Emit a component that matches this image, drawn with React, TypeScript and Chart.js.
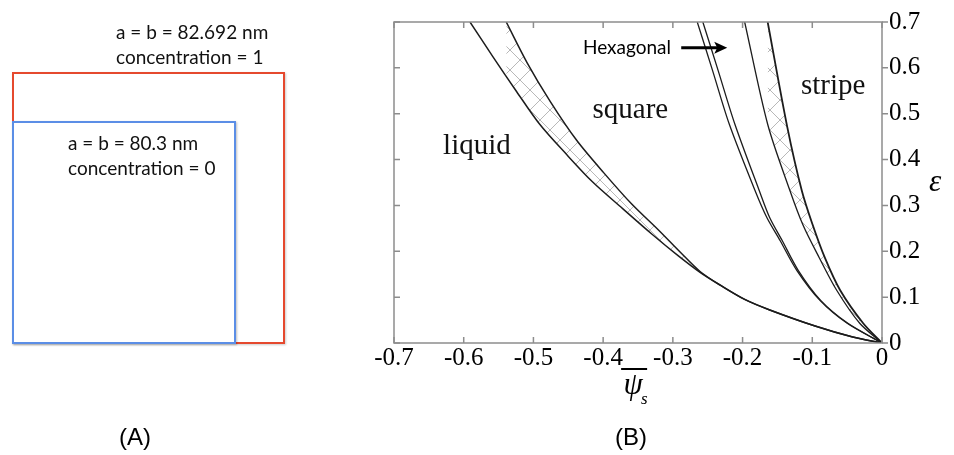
import React, { useEffect, useRef } from 'react';
import { Chart, registerables } from 'chart.js';

Chart.register(...registerables);

// Axis ticks
const xTickValues = [-0.7, -0.6, -0.5, -0.4, -0.3, -0.2, -0.1, 0];
const yTickValues = [0, 0.1, 0.2, 0.3, 0.4, 0.5, 0.6, 0.7];

// Liquid / square coexistence band
const liquidLowerPsi = [-0.591, -0.558, -0.524, -0.491, -0.453, -0.415, -0.372, -0.329, -0.293, -0.261, -0.232, -0.197, -0.161, -0.096, -0.042, 0];
const liquidLowerEps = [0.700, 0.624, 0.548, 0.477, 0.412, 0.351, 0.293, 0.236, 0.191, 0.154, 0.126, 0.095, 0.072, 0.037, 0.013, 0];
const liquidUpperPsi = [-0.539, -0.509, -0.476, -0.438, -0.399, -0.359, -0.321, -0.290, -0.261, -0.232, -0.197, -0.161, -0.096, -0.042, 0];
const liquidUpperEps = [0.700, 0.611, 0.527, 0.442, 0.371, 0.303, 0.247, 0.199, 0.156, 0.126, 0.095, 0.072, 0.037, 0.013, 0];

// Square / hexagonal boundaries
const hexLeftPsi = [-0.265, -0.243, -0.219, -0.182, -0.165, -0.146, -0.122, -0.089, -0.050, 0];
const hexLeftEps = [0.700, 0.594, 0.477, 0.332, 0.273, 0.223, 0.158, 0.093, 0.043, 0];
const hexRightPsi = [-0.257, -0.235, -0.211, -0.176, -0.161, -0.143, -0.120, -0.088, -0.049, 0];
const hexRightEps = [0.700, 0.594, 0.477, 0.332, 0.273, 0.223, 0.158, 0.093, 0.043, 0];

// Hexagonal / stripe coexistence band
const stripeLeftPsi = [-0.197, -0.164, -0.132, -0.113, -0.090, -0.065, -0.032, 0];
const stripeLeftEps = [0.700, 0.477, 0.332, 0.256, 0.186, 0.115, 0.043, 0];
const stripeRightPsi = [-0.164, -0.136, -0.115, -0.100, -0.082, -0.060, -0.027, 0];
const stripeRightEps = [0.700, 0.472, 0.332, 0.260, 0.186, 0.115, 0.043, 0];

// Region labels (data coordinates)
const regionNames = ['liquid', 'square', 'stripe'];
const regionPsi = [-0.581, -0.361, -0.070];
const regionEps = [0.412, 0.490, 0.544];
const hexLabel = 'Hexagonal';
const hexLabelPsi = -0.429;
const hexLabelEps = 0.631;
const arrowPsi = [-0.288, -0.222];
const arrowEps = 0.644;

// Panel A texts
const outerLines = ['a = b = 82.692 nm', 'concentration = 1'];
const innerLines = ['a = b = 80.3 nm', 'concentration = 0'];

const pts = (xs: number[], ys: number[]) => xs.map((x, i) => ({ x, y: ys[i] }));
const fmt = (v: any) => (Math.abs(Number(v)) < 1e-9 ? '0' : Number(v).toFixed(1));

const decor = {
  id: 'decor',
  afterDatasetsDraw(chart: any) {
    const { ctx, chartArea: a, scales } = chart;
    const x = scales.x;
    const y = scales.y;
    ctx.save();
    // frame
    ctx.strokeStyle = '#8d8d8d';
    ctx.lineWidth = 1.5;
    ctx.strokeRect(a.left, a.top, a.right - a.left, a.bottom - a.top);
    ctx.beginPath();
    xTickValues.forEach((v) => {
      const px = x.getPixelForValue(v);
      ctx.moveTo(px, a.bottom);
      ctx.lineTo(px, a.bottom - 6);
      ctx.moveTo(px, a.top);
      ctx.lineTo(px, a.top + 6);
    });
    yTickValues.forEach((v) => {
      const py = y.getPixelForValue(v);
      ctx.moveTo(a.left, py);
      ctx.lineTo(a.left + 6, py);
      ctx.moveTo(a.right, py);
      ctx.lineTo(a.right + 6, py);
    });
    ctx.stroke();

    // region labels
    ctx.fillStyle = '#111';
    ctx.font = '29px "Liberation Serif"';
    ctx.textAlign = 'center';
    ctx.textBaseline = 'alphabetic';
    regionNames.forEach((n, i) => {
      ctx.fillText(n, x.getPixelForValue(regionPsi[i]), y.getPixelForValue(regionEps[i]));
    });

    // Hexagonal label + arrow
    ctx.font = '19px Lato';
    ctx.textAlign = 'left';
    ctx.fillStyle = '#000';
    ctx.fillText(hexLabel, x.getPixelForValue(hexLabelPsi), y.getPixelForValue(hexLabelEps));
    const ax0 = x.getPixelForValue(arrowPsi[0]);
    const ax1 = x.getPixelForValue(arrowPsi[1]);
    const ay = y.getPixelForValue(arrowEps);
    ctx.strokeStyle = '#000';
    ctx.lineWidth = 3;
    ctx.beginPath();
    ctx.moveTo(ax0, ay);
    ctx.lineTo(ax1 - 8, ay);
    ctx.stroke();
    ctx.beginPath();
    ctx.moveTo(ax1, ay);
    ctx.lineTo(ax1 - 13, ay - 6);
    ctx.lineTo(ax1 - 10, ay);
    ctx.lineTo(ax1 - 13, ay + 6);
    ctx.closePath();
    ctx.fill();

    // x-axis title: psi bar, subscript s
    const tx = x.getPixelForValue(-0.357);
    const tb = a.bottom + 51;
    ctx.font = 'italic 31px "Liberation Serif"';
    ctx.textAlign = 'center';
    ctx.fillText('\u03C8', tx, tb);
    ctx.font = 'italic 17px "Liberation Serif"';
    ctx.textAlign = 'left';
    ctx.fillText('s', tx + 8, tb + 10);
    ctx.lineWidth = 2;
    ctx.beginPath();
    ctx.moveTo(tx - 12, a.bottom + 26);
    ctx.lineTo(tx + 14, a.bottom + 26);
    ctx.stroke();

    // y-axis title: epsilon
    ctx.font = 'italic 31px "Liberation Serif"';
    ctx.textAlign = 'center';
    ctx.textBaseline = 'middle';
    ctx.fillText('\u03B5', a.right + 53, y.getPixelForValue(0.35));
    ctx.restore();
  },
};

export default function App() {
  const ref = useRef<HTMLCanvasElement | null>(null);

  useEffect(() => {
    const canvas = ref.current;
    if (!canvas) return;
    const tile = document.createElement('canvas');
    tile.width = 20;
    tile.height = 20;
    const g = tile.getContext('2d')!;
    g.strokeStyle = '#b8b8b8';
    g.lineWidth = 1;
    g.beginPath();
    g.moveTo(-2, -2);
    g.lineTo(22, 22);
    g.moveTo(22, -2);
    g.lineTo(-2, 22);
    g.stroke();
    const hatch = canvas.getContext('2d')!.createPattern(tile, 'repeat');

    const line = (data: any[], width = 1.5) => ({
      data,
      showLine: true,
      borderColor: '#1c1c1c',
      borderWidth: width,
      pointRadius: 0,
      pointHoverRadius: 0,
      tension: 0.3,
      fill: false,
    });

    const chart = new Chart(canvas, {
      type: 'scatter',
      data: {
        datasets: [
          line(pts(liquidLowerPsi, liquidLowerEps)),
          { ...line(pts(liquidUpperPsi, liquidUpperEps)), fill: '-1', backgroundColor: hatch },
          line(pts(hexLeftPsi, hexLeftEps), 1.3),
          line(pts(hexRightPsi, hexRightEps), 1.3),
          line(pts(stripeLeftPsi, stripeLeftEps), 1.3),
          { ...line(pts(stripeRightPsi, stripeRightEps), 1.8), fill: '-1', backgroundColor: hatch },
        ] as any,
      },
      options: {
        animation: false,
        responsive: false,
        devicePixelRatio: 1,
        layout: { padding: { left: 394, top: 20, right: 0, bottom: 0 } },
        plugins: { legend: { display: false }, tooltip: { enabled: false } },
        scales: {
          x: {
            type: 'linear',
            min: -0.7,
            max: 0,
            afterBuildTicks: (s: any) => {
              s.ticks = xTickValues.map((v) => ({ value: v }));
            },
            afterFit: (s: any) => {
              s.height = 112;
            },
            grid: { display: false, drawTicks: false },
            border: { display: false },
            ticks: {
              font: { family: '"Liberation Serif"', size: 25 },
              color: '#000',
              padding: 0,
              maxRotation: 0,
              autoSkip: false,
              callback: fmt,
            },
          },
          y: {
            type: 'linear',
            position: 'right',
            min: 0,
            max: 0.7,
            afterBuildTicks: (s: any) => {
              s.ticks = yTickValues.map((v) => ({ value: v }));
            },
            afterFit: (s: any) => {
              s.width = 72;
            },
            grid: { display: false, drawTicks: false },
            border: { display: false },
            ticks: {
              font: { family: '"Liberation Serif"', size: 25 },
              color: '#000',
              padding: 7,
              autoSkip: false,
              callback: fmt,
            },
          },
        },
      } as any,
      plugins: [decor],
    });
    return () => chart.destroy();
  }, []);

  const calib: React.CSSProperties = {
    position: 'absolute',
    fontFamily: 'Lato, "Liberation Sans", sans-serif',
    fontSize: 19,
    lineHeight: '19px',
    color: '#111',
    whiteSpace: 'nowrap',
  };
  const caption: React.CSSProperties = {
    position: 'absolute',
    fontFamily: '"Liberation Sans", Arial, sans-serif',
    fontSize: 24,
    lineHeight: '24px',
    color: '#000',
    transform: 'translateX(-50%)',
  };

  return (
    <div style={{ position: 'absolute', left: 0, top: 0, width: 954, height: 455, background: '#fff', overflow: 'hidden' }}>
      <canvas ref={ref} width={954} height={455} style={{ position: 'absolute', left: 0, top: 0, width: 954, height: 455 }} />
      <div style={{ position: 'absolute', left: 12, top: 72, width: 273, height: 272, border: '2px solid #e5492e', boxSizing: 'border-box', boxShadow: '1px 1px 2px rgba(0,0,0,0.2)' }} />
      <div style={{ position: 'absolute', left: 12, top: 121, width: 224, height: 223, border: '2px solid #5b8ee6', boxSizing: 'border-box', boxShadow: '1px 1px 2px rgba(0,0,0,0.25)' }} />
      <div style={{ ...calib, left: 116, top: 22 }}>{outerLines[0]}</div>
      <div style={{ ...calib, left: 116, top: 47 }}>{outerLines[1]}</div>
      <div style={{ ...calib, left: 68, top: 133 }}>{innerLines[0]}</div>
      <div style={{ ...calib, left: 68, top: 158 }}>{innerLines[1]}</div>
      <div style={{ ...caption, left: 135, top: 425 }}>(A)</div>
      <div style={{ ...caption, left: 631, top: 425 }}>(B)</div>
    </div>
  );
}
